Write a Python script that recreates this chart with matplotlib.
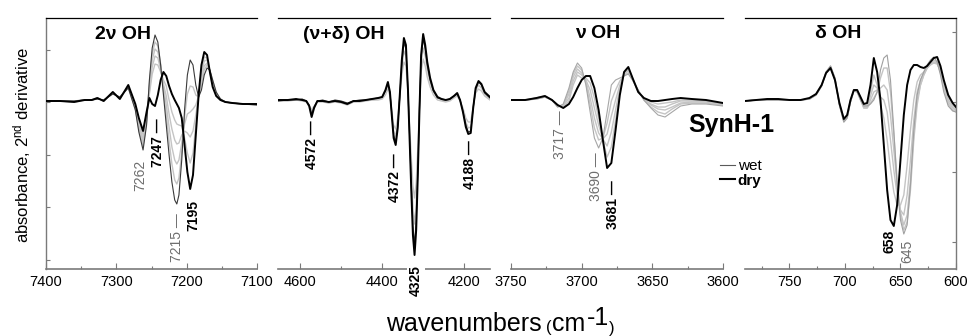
import matplotlib
matplotlib.use("Agg")
import matplotlib.pyplot as plt
from matplotlib.ticker import FixedLocator
from matplotlib.lines import Line2D

plt.rcParams['font.family'] = ['Liberation Sans', 'DejaVu Sans']
plt.rcParams['mathtext.fontset'] = 'custom'
plt.rcParams['mathtext.rm'] = 'Liberation Sans'
plt.rcParams['mathtext.it'] = 'Liberation Sans:italic'
plt.rcParams['mathtext.bf'] = 'Liberation Sans:bold'

# ---------------- data (2nd derivative, arbitrary units) ----------------
# Panel 1: 2v OH
P1_WN = [7400, 7380, 7360, 7345, 7335, 7327, 7318, 7305, 7295, 7283, 7273, 7268, 7262, 7257, 7253,
         7249, 7245, 7241, 7237, 7233, 7229, 7225, 7221, 7217, 7214, 7211, 7207, 7203, 7199, 7195,
         7191, 7187, 7183, 7179, 7175, 7171, 7167, 7163, 7158, 7152, 7145, 7135, 7120, 7100]
P1_DRY = [1, 1, 0, 2, 2, 4, 1, 10, 3, 17, -2, -16, -29, -10, 4, -2, -4, 7, 22, 30, 26, 16, 8, 2, -2,
          -6, -16, -43, -70, -87, -73, -33, 7, 37, 50, 47, 30, 15, 6, 2, 0, -1, -2, -2]
P1_WET = [1, 1, 1, 2, 2, 3, 2, 8, 5, 14, -8, -30, -48, -23, 22, 54, 67, 60, 37, 7, -23, -53, -80, -98,
          -102, -93, -58, -8, 27, 42, 37, 17, 5, 12, 27, 34, 32, 22, 10, 3, 0, -1, -2, -3]
P1_G1 = [1, 1, 1, 2, 2, 3, 2, 8, 5, 15, -7, -27, -44, -20, 18, 48, 60, 56, 38, 12, -13, -39, -62, -78,
         -82, -76, -50, -15, 8, 16, 15, 7, 5, 17, 32, 37, 32, 21, 9, 3, 0, -1, -2, -3]
P1_G2 = [1, 1, 1, 2, 2, 3, 2, 9, 4, 15, -6, -24, -40, -18, 15, 42, 53, 50, 36, 15, -3, -25, -45, -58,
         -62, -58, -41, -22, -12, -10, -7, -3, 6, 22, 36, 39, 31, 19, 8, 3, 0, -1, -2, -2]
P1_G3 = [1, 1, 1, 2, 2, 4, 1, 9, 4, 16, -4, -22, -37, -15, 11, 35, 46, 44, 33, 18, 6, -12, -27, -38,
         -42, -41, -33, -29, -31, -35, -29, -13, 6, 27, 41, 42, 31, 18, 8, 2, 0, -1, -2, -2]
P1_G4 = [1, 1, 0, 2, 2, 4, 1, 10, 3, 16, -3, -19, -33, -13, 8, 28, 38, 37, 30, 22, 16, 2, -10, -18,
         -22, -23, -24, -36, -51, -61, -51, -23, 7, 32, 45, 44, 30, 16, 7, 2, 0, -1, -2, -2]

# Panel 2: (v+d) OH
P2_WN = [4654, 4630, 4610, 4595, 4585, 4578, 4572, 4566, 4558, 4545, 4530, 4515, 4500, 4485, 4470,
         4455, 4440, 4425, 4410, 4400, 4392, 4386, 4381, 4376, 4372, 4367, 4362, 4357, 4352, 4347,
         4342, 4337, 4333, 4329, 4325, 4321, 4317, 4313, 4309, 4305, 4300, 4295, 4290, 4283, 4275,
         4265, 4255, 4245, 4235, 4225, 4217, 4210, 4203, 4196, 4190, 4184, 4178, 4172, 4165, 4158,
         4150, 4137]
P2_DRY = [2, 2, 3, 2, 1, -4, -15, -6, 1, 1, 0, 1, 0, -2, 1, 1, 2, 3, 4, 5, 12, 20, 10, -16, -36, -43,
          -26, 7, 42, 64, 57, 12, -38, -88, -133, -153, -128, -73, -8, 47, 68, 57, 40, 24, 12, 5, 3,
          2, 3, 6, 9, 2, -10, -25, -32, -31, -6, 14, 21, 18, 10, 5]
P2_WET = [1, 2, 2, 3, 1, -3, -12, -5, 1, 2, 0, 2, 1, -1, 1, 2, 2, 3, 4, 5, 11, 18, 9, -14, -33, -40,
          -24, 6, 39, 59, 53, 11, -35, -82, -124, -142, -119, -68, -7, 44, 63, 53, 37, 22, 11, 4, 3,
          2, 3, 6, 8, 2, -9, -23, -30, -29, -6, 13, 20, 17, 9, 4]
P2_G1 = [1, 2, 2, 2, 1, -3, -11, -5, 1, 1, -1, 1, 0, -2, 0, 1, 2, 2, 3, 4, 10, 16, 8, -13, -29, -34,
         -21, 6, 34, 51, 46, 10, -30, -70, -106, -122, -102, -58, -6, 38, 54, 46, 32, 19, 10, 4, 2,
         1, 2, 5, 7, 2, -8, -20, -26, -25, -5, 11, 17, 14, 8, 3]
P2_G2 = [1, 1, 2, 1, 0, -3, -8, -4, 0, 0, -1, 0, -1, -3, 0, 0, 1, 2, 2, 3, 7, 13, 6, -10, -23, -27,
         -16, 4, 27, 40, 36, 8, -24, -55, -84, -96, -81, -46, -5, 30, 43, 36, 25, 15, 7, 2, 1, 0, 1,
         4, 6, 1, -6, -16, -20, -20, -4, 9, 13, 11, 6, 2]

# Panel 3: v OH
P3_WN = [3750, 3740, 3732, 3726, 3721, 3717, 3713, 3709, 3706, 3703, 3700, 3697, 3694, 3691, 3688,
         3685, 3682, 3679, 3676, 3673, 3670, 3667, 3664, 3660, 3656, 3651, 3646, 3641, 3636, 3630,
         3622, 3612, 3600]
P3_DRY = [2, 2, 4, 6, 2, -3, -6, -2, 5, 14, 22, 26, 26, 14, -8, -38, -66, -61, -28, 7, 30, 35, 24, 10,
          4, 1, 1, 2, 3, 4, 3, 2, -1]
P3_WET = [2, 2, 3, 5, 2, -5, -2, 14, 30, 39, 34, 17, -10, -36, -46, -36, -10, 17, 22, 24, 26, 28, 22,
          12, 2, -6, -13, -15, -10, -4, -2, -2, -4]
P3_G1 = [2, 2, 3, 5, 2, -5, -3, 11, 28, 36, 32, 19, -3, -26, -38, -36, -21, 1, 12, 21, 27, 29, 22, 12,
         2, -5, -10, -12, -7, -2, -1, -1, -3]
P3_G2 = [2, 2, 3, 5, 2, -4, -4, 8, 25, 33, 29, 21, 4, -16, -31, -37, -32, -14, 2, 17, 28, 31, 23, 11,
         3, -3, -7, -8, -5, -1, 0, 0, -3]
P3_G3 = [2, 2, 4, 6, 2, -4, -4, 4, 21, 30, 27, 22, 12, -6, -23, -37, -44, -30, -8, 14, 28, 32, 23, 11,
         3, -2, -5, -5, -2, 1, 1, 1, -2]
P3_G4 = [2, 2, 4, 6, 2, -3, -5, 1, 17, 27, 24, 24, 19, 4, -16, -38, -55, -45, -18, 10, 29, 34, 24, 10,
         4, 0, -2, -1, 0, 2, 2, 1, -2]

# Panel 4: d OH
P4_WN = [790, 780, 770, 760, 750, 740, 732, 726, 721, 717, 713, 709, 705, 701, 698, 695, 692, 689,
         686, 683, 680, 677, 674, 671, 668, 665, 662, 659, 656, 653, 650, 647, 644, 641, 638, 635,
         632, 629, 626, 623, 620, 617, 614, 611, 607, 603, 600]
P4_DRY = [1, 2, 3, 3, 2, 2, 4, 8, 17, 29, 34, 22, -1, -17, -13, 2, 12, 12, 5, -2, -1, 17, 44, 30, 2,
          -43, -88, -118, -124, -103, -58, -13, 17, 32, 37, 37, 35, 34, 36, 40, 44, 45, 36, 22, 7,
          -1, -5]
P4_WET = [1, 2, 2, 2, 2, 2, 3, 7, 16, 30, 36, 24, -3, -20, -16, 0, 11, 10, 2, -4, -4, -2, 2, 10, 32,
          44, 47, 22, -28, -83, -118, -132, -123, -83, -28, 7, 22, 30, 37, 42, 45, 40, 27, 10, -4,
          -9, -10]
P4_G1 = [1, 2, 2, 2, 2, 2, 3, 7, 16, 30, 36, 24, -3, -20, -16, 0, 11, 10, 2, -6, -6, -1, 4, 10, 24,
         34, 34, 10, -33, -78, -113, -128, -120, -88, -38, -3, 17, 27, 34, 39, 42, 40, 30, 14, -2,
         -8, -10]
P4_G2 = [1, 2, 2, 2, 2, 2, 3, 7, 16, 30, 35, 23, -2, -19, -15, 1, 11, 11, 3, -6, -6, 2, 10, 12, 14,
         17, 12, -13, -48, -83, -110, -123, -113, -78, -33, 2, 17, 27, 34, 38, 40, 39, 30, 16, 0,
         -6, -9]
P4_G3 = [1, 2, 2, 2, 2, 2, 3, 8, 17, 29, 35, 23, -2, -18, -14, 1, 12, 11, 4, -5, -5, 6, 17, 14, 5, 2,
         -10, -38, -68, -93, -108, -113, -93, -58, -18, 10, 22, 29, 34, 37, 39, 38, 32, 18, 2, -4,
         -8]
P4_G4 = [1, 2, 2, 2, 2, 2, 3, 8, 17, 29, 34, 22, -1, -17, -13, 2, 12, 12, 4, -4, -3, 10, 27, 17, -3,
         -16, -38, -66, -90, -103, -103, -93, -63, -28, 2, 20, 27, 30, 35, 38, 40, 39, 32, 20, 4,
         -2, -6]

TITLES = ["2\u03bd OH", "(\u03bd+\u03b4) OH", "\u03bd OH", "\u03b4 OH"]
XLIMS = [(7400, 7100), (4654, 4137), (3750, 3600), (790, 600)]
MAJOR = [[7400, 7300, 7200, 7100], [4600, 4400, 4200], [3750, 3700, 3650, 3600], [750, 700, 650, 600]]
MINOR = [[7350, 7250, 7150], [4500, 4300], [3725, 3675, 3625], [775, 725, 675, 625]]

# peak labels: (wavenumber position, text, bold?)
PEAKS = [
    [(7266, -58, "7262", False), (7241, -16, "7247 \u2014", True),
     (7214, -111, "7215 \u2014", False), (7191, -98, "7195", True)],
    [(4571, -18, "4572 \u2014", True), (4369, -51, "4372 \u2014", True),
     (4317, -163, "4325", True), (4186, -38, "4188 \u2014", True)],
    [(3715, -8, "3717 \u2014", False), (3690, -50, "3690 \u2014", False),
     (3678, -78, "3681 \u2014", True)],
    [(659.5, -128, "658", True), (644, -138, "645", False)],
]

PANELS = [
    (P1_WN, P1_WET, [P1_G1, P1_G2, P1_G3, P1_G4], P1_DRY),
    (P2_WN, P2_WET, [P2_G1, P2_G2], P2_DRY),
    (P3_WN, P3_WET, [P3_G1, P3_G2, P3_G3, P3_G4], P3_DRY),
    (P4_WN, P4_WET, [P4_G1, P4_G2, P4_G3, P4_G4], P4_DRY),
]

# ---------------- layout ----------------
W, H = 967, 336
fig = plt.figure(figsize=(W / 100, H / 100), dpi=100)
AX_X = [(46, 257), (278, 490), (511, 723), (745, 956)]
TOP, BOT = 18, 269
TITLE_POS = [(0.365, 0.935), (0.311, 0.935), (0.41, 0.938), (0.44, 0.938)]

SPINE_GRAY = '#7a7a7a'
GRAY = '#c4c4c4'
WET_COLORS = ['#3a3a3a', '#3a3a3a', '#a6a6a6', '#a0a0a0']
LEGEND_WET = '#5a5a5a'
LABEL_GRAY = '#6e6e6e'

for i, (x0, x1) in enumerate(AX_X):
    ax = fig.add_axes([x0 / W, (H - BOT) / H, (x1 - x0) / W, (BOT - TOP) / H])
    wn, wet, grays, dry = PANELS[i]
    for g in grays:
        ax.plot(wn, g, color=GRAY, lw=1.0, zorder=2)
    ax.plot(wn, wet, color=WET_COLORS[i], lw=0.8, zorder=3)
    ax.plot(wn, dry, color='black', lw=1.4, zorder=4)
    ax.set_xlim(*XLIMS[i])
    ax.set_ylim(-167, 84)

    ax.xaxis.set_major_locator(FixedLocator(MAJOR[i]))
    ax.xaxis.set_minor_locator(FixedLocator(MINOR[i]))
    ax.tick_params(axis='x', which='major', direction='in', length=4, width=0.8,
                   color=SPINE_GRAY, labelsize=10.5, pad=4)
    ax.tick_params(axis='x', which='minor', direction='in', length=2.5, width=0.8,
                   color=SPINE_GRAY)
    ax.tick_params(axis='x', which='both', top=False)

    for s in ['left', 'right']:
        ax.spines[s].set_visible(False)
    ax.spines['top'].set_color('black')
    ax.spines['top'].set_linewidth(0.9)
    ax.spines['bottom'].set_color(SPINE_GRAY)
    ax.spines['bottom'].set_linewidth(1.2)

    if i == 0:
        ax.spines['left'].set_visible(True)
        ax.spines['left'].set_color(SPINE_GRAY)
        ax.spines['left'].set_linewidth(1.0)
        ax.set_yticks([52.5, 0, -52.5, -105, -157.5])
        ax.tick_params(axis='y', direction='in', length=3, width=0.8, color=SPINE_GRAY,
                       labelleft=False, right=False)
    elif i == 3:
        ax.spines['right'].set_visible(True)
        ax.spines['right'].set_color(SPINE_GRAY)
        ax.spines['right'].set_linewidth(1.0)
        ax.yaxis.tick_right()
        ax.set_yticks([70, 0, -70, -140])
        ax.tick_params(axis='y', direction='in', length=3, width=0.8, color=SPINE_GRAY,
                       labelright=False, left=False)
    else:
        ax.tick_params(axis='y', left=False, right=False, labelleft=False)

    tx, ty = TITLE_POS[i]
    ax.text(tx, ty, TITLES[i], transform=ax.transAxes, ha='center', va='center',
            fontsize=14, fontweight='bold', zorder=6)

    for (xw, yv, s, bold) in PEAKS[i]:
        kw = dict(rotation=90, ha='center', va='top', fontsize=10,
                  color='black' if bold else LABEL_GRAY,
                  fontweight='bold' if bold else 'normal', zorder=6, clip_on=False)
        if s == "4325":
            kw['bbox'] = dict(facecolor='white', edgecolor='none', pad=1.5)
        ax.text(xw, yv, s, **kw)

# sample name and legend
fig.text(688 / W, 1 - 125 / H, "SynH-1", ha='left', va='center', fontsize=18, fontweight='bold')
leg = fig.legend(handles=[Line2D([], [], color=LEGEND_WET, lw=0.8),
                          Line2D([], [], color='black', lw=1.5)],
                 labels=['wet', 'dry'], loc='upper left', bbox_to_anchor=(720 / W, 1 - 159 / H),
                 frameon=False, handlelength=1.0, handletextpad=0.15, labelspacing=0.05,
                 borderpad=0, borderaxespad=0, fontsize=11)
leg.get_texts()[1].set_fontweight('bold')

# axis titles
fig.text(22 / W, 1 - 145 / H, r'absorbance, 2$^{\mathrm{nd}}$ derivative', rotation=90,
         ha='center', va='center', fontsize=12)
fig.text(386 / W, 1 - 331 / H, 'wavenumbers', ha='left', va='baseline', fontsize=18)
fig.text(546 / W, 1 - 332 / H, '(', ha='left', va='baseline', fontsize=12)
fig.text(552 / W, 1 - 331 / H, 'cm', ha='left', va='baseline', fontsize=18)
fig.text(587 / W, 1 - 325 / H, '-1', ha='left', va='baseline', fontsize=18)
fig.text(609 / W, 1 - 333 / H, ')', ha='left', va='baseline', fontsize=12)

fig.savefig('out.png', dpi=100)
